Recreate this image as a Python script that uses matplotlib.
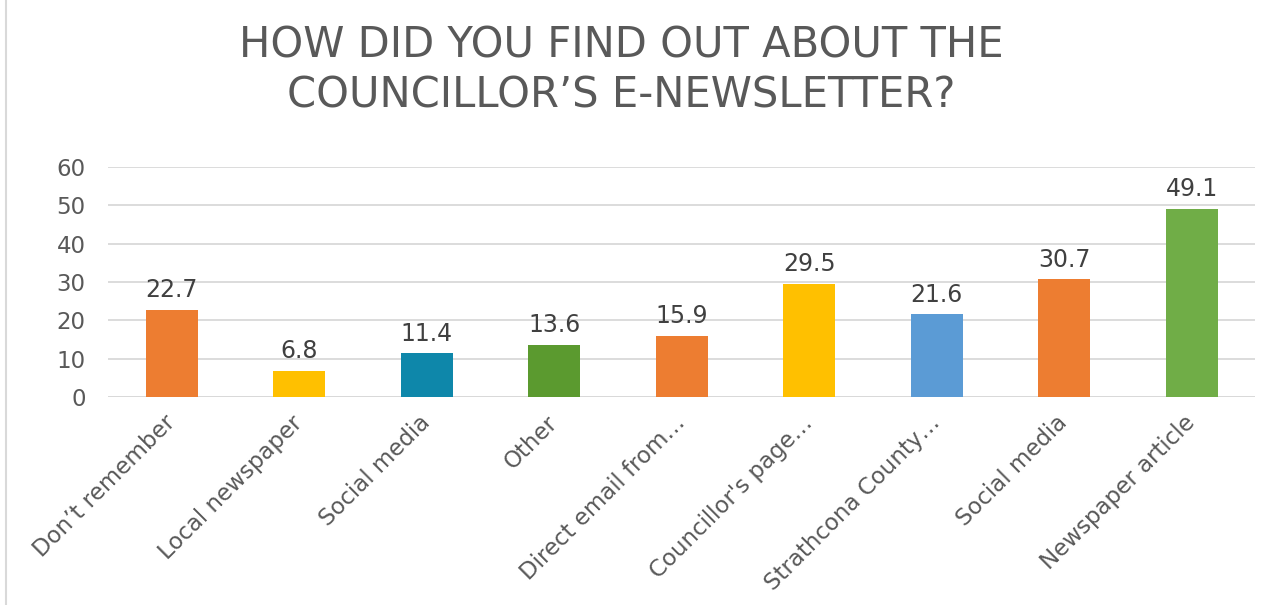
import matplotlib.pyplot as plt
from matplotlib.patches import Rectangle

categories = ["Don’t remember", "Local newspaper", "Social media", "Other",
              "Direct email from…", "Councillor's page…", "Strathcona County…",
              "Social media", "Newspaper article"]
values = [22.7, 6.8, 11.4, 13.6, 15.9, 29.5, 21.6, 30.7, 49.1]
colors = ["#ED7D31", "#FFC000", "#0E87AA", "#5B9A2F", "#ED7D31",
          "#FFC000", "#5B9BD5", "#ED7D31", "#70AD47"]

plt.rcParams['font.family'] = ['DejaVu Sans']
fig = plt.figure(figsize=(12.81, 6.05), dpi=100)
ax = fig.add_axes([0.0843, 0.3438, 0.8957, 0.3802])

x = range(len(categories))
bars = ax.bar(x, values, width=0.41, color=colors, zorder=3)
for b, v in zip(bars, values):
    ax.text(b.get_x() + b.get_width() / 2, v + 2.0, f"{v}", ha='center', va='bottom',
            fontsize=17, color='#404040')

ax.set_xlim(-0.5, len(categories) - 0.5)
ax.set_ylim(0, 60)
ax.set_yticks(range(0, 61, 10))
ax.yaxis.grid(True, color='#D9D9D9', linewidth=1.3, zorder=0)
ax.tick_params(axis='y', length=0, labelsize=16.5, labelcolor='#595959', pad=16)
ax.tick_params(axis='x', length=0, labelsize=16.5, labelcolor='#595959', pad=16)
ax.set_xticks(list(x))
ax.set_xticklabels(categories, rotation=45, ha='right', va='center',
                   rotation_mode='anchor')
for s in ax.spines.values():
    s.set_visible(False)
ax.axhline(0, color='#D9D9D9', linewidth=1.3, zorder=2)

fig.text(0.485, 0.883, "HOW DID YOU FIND OUT ABOUT THE\nCOUNCILLOR’S E-NEWSLETTER?",
         ha='center', va='center', fontsize=30, color='#595959', linespacing=1.25)

fig.patches.append(Rectangle((0.005, -0.01), 1.0, 1.02, transform=fig.transFigure,
                             fill=False, edgecolor='#D9D9D9', linewidth=1.5))

fig.savefig("out.png", dpi=100)
